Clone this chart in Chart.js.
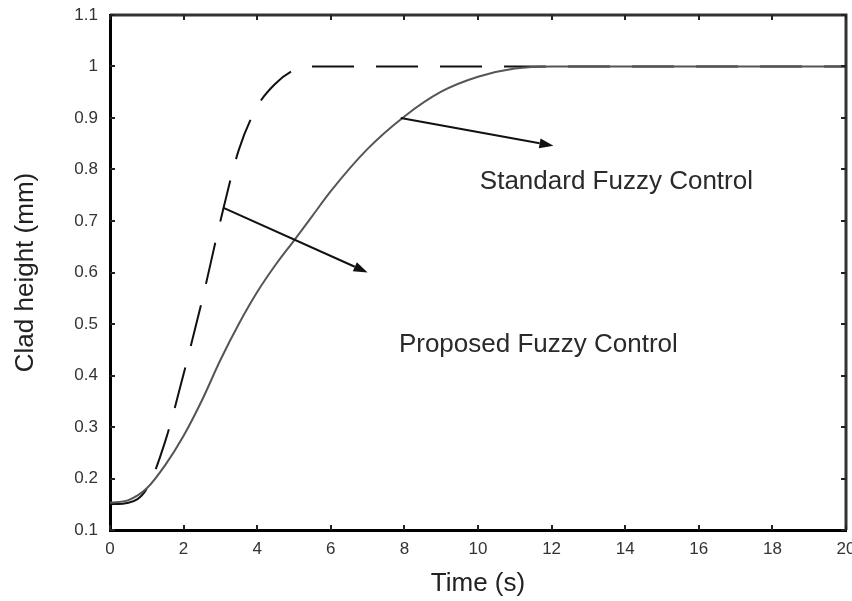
<!DOCTYPE html>
<html>
<head>
<meta charset="utf-8">
<script src="https://cdn.jsdelivr.net/npm/chart.js@4/dist/chart.umd.min.js"></script>
<style>
  html, body { margin: 0; padding: 0; background: #fff; }
  canvas { display: block; }
</style>
</head>
<body>
<canvas id="chart" width="852" height="601"></canvas>
<script>
// time axis (s)
const timeValues = [0, 0.5, 1, 1.5, 2, 2.5, 3, 3.5, 4, 4.5, 5, 5.5, 6, 7, 8, 9, 10, 11, 12, 14, 16, 18, 20];

// clad height (mm)
const standardValues = [0.153, 0.158, 0.181, 0.226, 0.283, 0.352, 0.43, 0.50, 0.562, 0.615, 0.662, 0.71, 0.758, 0.84, 0.903, 0.951, 0.98, 0.996, 1.0, 1.0, 1.0, 1.0, 1.0];
const proposedValues = [0.15, 0.153, 0.18, 0.272, 0.403, 0.545, 0.70, 0.838, 0.922, 0.967, 0.993, 1.0, 1.0, 1.0, 1.0, 1.0, 1.0, 1.0, 1.0, 1.0, 1.0, 1.0, 1.0];

const xTicks = [0, 2, 4, 6, 8, 10, 12, 14, 16, 18, 20];
const yTicks = [0.1, 0.2, 0.3, 0.4, 0.5, 0.6, 0.7, 0.8, 0.9, 1, 1.1];

// annotations (data units)
const labelTexts = ['Standard Fuzzy Control', 'Proposed Fuzzy Control'];
const labelPoints = [[10.05, 0.776], [7.85, 0.459]];
const arrowFrom = [[7.9, 0.9], [3.07, 0.726]];
const arrowTo = [[12.05, 0.846], [7.0, 0.6]];

const FONT = 'Arial, "Liberation Sans", sans-serif';

function toPoints(xs, ys) {
    return xs.map((x, i) => ({ x: x, y: ys[i] }));
}

// frame on top/right and inward tick marks on all four sides
const framePlugin = {
    id: 'frame',
    afterDraw(chart) {
        const { ctx, chartArea: a, scales } = chart;
        ctx.save();
        ctx.strokeStyle = '#333';
        ctx.lineWidth = 3;
        ctx.beginPath();
        ctx.moveTo(a.left, a.top);
        ctx.lineTo(a.right, a.top);
        ctx.lineTo(a.right, a.bottom);
        ctx.stroke();

        ctx.strokeStyle = '#222';
        ctx.lineWidth = 2;
        ctx.beginPath();
        xTicks.forEach(v => {
            const px = Math.round(scales.x.getPixelForValue(v));
            ctx.moveTo(px, a.bottom);
            ctx.lineTo(px, a.bottom - 5);
            ctx.moveTo(px, a.top);
            ctx.lineTo(px, a.top + 5);
        });
        yTicks.forEach(v => {
            const py = Math.round(scales.y.getPixelForValue(v));
            ctx.moveTo(a.left, py);
            ctx.lineTo(a.left + 5, py);
            ctx.moveTo(a.right, py);
            ctx.lineTo(a.right - 5, py);
        });
        ctx.stroke();
        ctx.restore();
    }
};

// arrows and text labels
const notesPlugin = {
    id: 'notes',
    afterDatasetsDraw(chart) {
        const { ctx, scales } = chart;
        ctx.save();
        ctx.strokeStyle = '#111';
        ctx.fillStyle = '#111';
        ctx.lineWidth = 2;
        arrowFrom.forEach((p, i) => {
            const x1 = scales.x.getPixelForValue(p[0]);
            const y1 = scales.y.getPixelForValue(p[1]);
            const x2 = scales.x.getPixelForValue(arrowTo[i][0]);
            const y2 = scales.y.getPixelForValue(arrowTo[i][1]);
            const ang = Math.atan2(y2 - y1, x2 - x1);
            const len = 14, half = 5;
            const bx = x2 - len * Math.cos(ang), by = y2 - len * Math.sin(ang);
            ctx.beginPath();
            ctx.moveTo(x1, y1);
            ctx.lineTo(bx, by);
            ctx.stroke();
            ctx.beginPath();
            ctx.moveTo(x2, y2);
            ctx.lineTo(bx + half * Math.sin(ang), by - half * Math.cos(ang));
            ctx.lineTo(bx - half * Math.sin(ang), by + half * Math.cos(ang));
            ctx.closePath();
            ctx.fill();
        });
        ctx.fillStyle = '#2a2a2a';
        ctx.font = '26px ' + FONT;
        ctx.textAlign = 'left';
        ctx.textBaseline = 'middle';
        labelTexts.forEach((t, i) => {
            ctx.fillText(t, scales.x.getPixelForValue(labelPoints[i][0]), scales.y.getPixelForValue(labelPoints[i][1]));
        });
        ctx.restore();
    }
};

new Chart(document.getElementById('chart'), {
    type: 'line',
    data: {
        datasets: [
            {
                label: 'Standard Fuzzy Control',
                data: toPoints(timeValues, standardValues),
                borderColor: '#555',
                borderWidth: 2,
                pointRadius: 0,
                cubicInterpolationMode: 'monotone'
            },
            {
                label: 'Proposed Fuzzy Control',
                data: toPoints(timeValues, proposedValues),
                borderColor: '#111',
                borderWidth: 2,
                borderDash: [42, 22],
                pointRadius: 0,
                cubicInterpolationMode: 'monotone'
            }
        ]
    },
    options: {
        responsive: false,
        animation: false,
        layout: { padding: { top: 15, right: 6, left: 0, bottom: 0 } },
        plugins: {
            legend: { display: false },
            tooltip: { enabled: false }
        },
        scales: {
            x: {
                type: 'linear',
                min: 0,
                max: 20,
                afterFit: s => { s.height = 71; s.paddingLeft = 0; s.paddingRight = 0; },
                afterBuildTicks: s => { s.ticks = xTicks.map(v => ({ value: v })); },
                grid: { display: false, drawTicks: false },
                border: { display: true, color: '#000', width: 3 },
                ticks: { font: { family: FONT, size: 17 }, color: '#333', padding: 9, maxRotation: 0 },
                title: { display: true, text: 'Time (s)', color: '#222', font: { family: FONT, size: 26, lineHeight: 1.2 }, padding: { top: 0, bottom: 2 } }
            },
            y: {
                type: 'linear',
                min: 0.1,
                max: 1.1,
                afterFit: s => { s.width = 110; s.paddingTop = 0; s.paddingBottom = 0; },
                afterBuildTicks: s => { s.ticks = yTicks.map(v => ({ value: v })); },
                grid: { display: false, drawTicks: false },
                border: { display: true, color: '#000', width: 3 },
                ticks: { font: { family: FONT, size: 17 }, color: '#333', padding: 12, callback: v => String(Math.round(v * 10) / 10) },
                title: { display: true, text: 'Clad height (mm)', color: '#222', font: { family: FONT, size: 26, lineHeight: 1.2 }, padding: { top: 10, bottom: 0 } }
            }
        }
    },
    plugins: [framePlugin, notesPlugin]
});
</script>
</body>
</html>
